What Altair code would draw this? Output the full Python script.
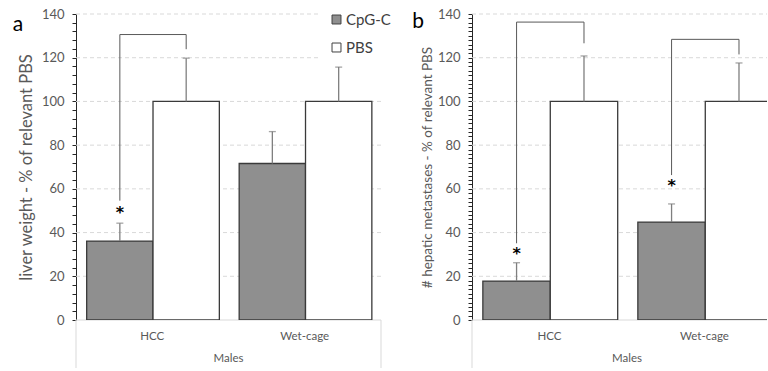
import altair as alt
import pandas as pd

# ---------------- data ----------------
categories = ["HCC", "Wet-cage"]
series = ["CpG-C", "PBS"]
group_label = "Males"

a_cpg = [36.1, 71.6]
a_cpg_err = [44.3, 86.2]
a_pbs = [100, 100]
a_pbs_err = [119.8, 115.7]
a_stars = [50.5, None]
a_brackets = [[0, 54.6, 130.6, 123.9]]  # category, left low, top, right low

b_cpg = [17.8, 44.8]
b_cpg_err = [26.2, 53.1]
b_pbs = [100, 100]
b_pbs_err = [120.8, 117.6]
b_stars = [31.6, 62.7]
b_brackets = [[0, 35.1, 136.3, 126.6], [1, 66.3, 128.4, 121.5]]

y_max = 140
major_ticks = list(range(0, 141, 20))

# ---------------- style ----------------
FONT = "Lato"
GAP = 0.07
BW = 0.435
H = 306
GRAY_TXT = "#595959"
AXIS_C = "#262626"
FRAME_C = "#d9d9d9"


def panel(cpg, cpg_err, pbs, pbs_err, stars, brackets, ytitle, title_size,
          minor, letter, width, unit, legend, title_x, letter_x, letter_y, anchor):
    xmax = width / unit
    n = len(categories)
    rows = []
    for i, c in enumerate(categories):
        for j, (s, v, e) in enumerate(zip(series, [cpg[i], pbs[i]], [cpg_err[i], pbs_err[i]])):
            x0 = i + GAP + j * BW
            rows.append(dict(cat=c, series=s, value=v, base=0, err=e, x0=x0, x1=x0 + BW, xc=x0 + BW / 2))
    df = pd.DataFrame(rows)

    yaxis = alt.Axis(
        values=list(range(0, y_max + 1, minor)),
        labelExpr="datum.value % 20 == 0 ? datum.label : ''",
        labelOverlap=False, grid=False,
        tickSize=4, tickColor=AXIS_C, domainColor=AXIS_C,
        labelColor=GRAY_TXT, labelFontSize=13, labelPadding=8, labelFont=FONT,
        title=ytitle, titleFont=FONT, titleFontSize=title_size, titleColor=GRAY_TXT,
        titleFontWeight="normal", titleAngle=270, titleX=title_x, titleY=H / 2,
        titleBaseline="alphabetic", titleAlign="center")

    xs = alt.Scale(domain=[0, xmax], nice=False, zero=False)
    ys = alt.Scale(domain=[0, y_max], nice=False)
    X = lambda f: alt.X(f, type="quantitative", scale=xs, axis=None)
    Y = lambda f: alt.Y(f, type="quantitative", scale=ys, axis=yaxis)

    grid_df = pd.DataFrame({"y": [t for t in major_ticks if t > 0], "gx0": 0.0, "gx1": xmax})
    grid = alt.Chart(grid_df).mark_rule(color=FRAME_C, strokeDash=[4, 3], strokeWidth=1).encode(
        x=X("gx0"), x2="gx1", y=Y("y"))

    base_df = pd.DataFrame({"y": [0], "gx0": [0.0], "gx1": [xmax]})
    baseline = alt.Chart(base_df).mark_rule(color=FRAME_C, strokeWidth=1).encode(
        x=X("gx0"), x2="gx1", y=Y("y"))

    fr_df = pd.DataFrame({"fx": [b for b in [0, n] if b <= xmax]})
    frames = alt.Chart(fr_df).mark_rule(color=FRAME_C, strokeWidth=1).encode(
        x=X("fx"), y=alt.value(H), y2=alt.value(H + 48))

    bars = alt.Chart(df).mark_bar(stroke="#3a3a3a", strokeWidth=1.3, clip=True).encode(
        x=X("x0"), x2="x1",
        y=Y("value"), y2="base",
        color=alt.Color("series:N", scale=alt.Scale(domain=series, range=["#8f8f8f", "#ffffff"]),
                        legend=legend),
    )

    errs = alt.Chart(df).mark_rule(color="#7f7f7f", strokeWidth=1.3).encode(
        x=X("xc"), y=Y("value"), y2="err")
    caps = alt.Chart(df).mark_tick(orient="horizontal", size=7, thickness=1.3, color="#7f7f7f").encode(
        x=X("xc"), y=Y("err"))

    seg = []
    for ci, lo_l, top, lo_r in brackets:
        xl = ci + GAP + BW / 2
        xr = ci + GAP + 1.5 * BW
        seg += [dict(x=xl, x2=xl, y=lo_l, y2=top),
                dict(x=xl, x2=xr, y=top, y2=top),
                dict(x=xr, x2=xr, y=top, y2=lo_r)]
    brk = alt.Chart(pd.DataFrame(seg)).mark_rule(color="#595959", strokeWidth=1).encode(
        x=X("x"), x2="x2", y=Y("y"), y2="y2")

    st_df = pd.DataFrame([dict(x=i + GAP + BW / 2, y=s) for i, s in enumerate(stars) if s is not None])
    star = alt.Chart(st_df).mark_text(text="*", fontSize=16, fontWeight="bold", color="#000000",
                                      baseline="middle", dy=3, font="DejaVu Sans").encode(
        x=X("x"), y=Y("y"))

    cat_df = pd.DataFrame({"cat": categories, "cx": [i + 0.5 for i in range(n)]})
    cat_txt = alt.Chart(cat_df).mark_text(fontSize=11.5, color=GRAY_TXT, font=FONT, baseline="middle").encode(
        x=X("cx"), y=alt.value(H + 17), text="cat:N")
    grp_df = pd.DataFrame({"g": [group_label], "gx": [n / 2]})
    grp_txt = alt.Chart(grp_df).mark_text(fontSize=11.5, color=GRAY_TXT, font=FONT, baseline="middle").encode(
        x=X("gx"), y=alt.value(H + 39), text="g:N")

    let_df = pd.DataFrame({"t": [letter]})
    let_txt = alt.Chart(let_df).mark_text(fontSize=21, color="#000000", font=FONT, baseline="middle").encode(
        x=alt.value(letter_x), y=alt.value(letter_y), text="t:N")

    layers = [grid, baseline, frames, bars, errs, caps, brk, star, cat_txt, grp_txt, let_txt]
    if anchor:
        anc = alt.Chart(pd.DataFrame({"a": [0]})).mark_rule(opacity=0, strokeWidth=1).encode(
            x=alt.value(-76), x2=alt.value(-70), y=alt.value(-14), y2=alt.value(-14))
        layers.append(anc)
    return alt.layer(*layers).properties(width=width, height=H)


legend_a = alt.Legend(orient="none", legendX=243, legendY=-12, title=None, symbolType="square",
                      symbolSize=80, symbolStrokeColor="#404040", symbolStrokeWidth=1,
                      labelFontSize=15, labelColor="#404040", labelFont=FONT, rowPadding=12,
                      fillColor="white", padding=10, labelOffset=2)

pa = panel(a_cpg, a_cpg_err, a_pbs, a_pbs_err, a_stars, a_brackets,
           "liver weight - % of relevant PBS", 16.5, 4, "a", 305, 152.5, legend_a,
           -45, -58, 11, True)
pb = panel(b_cpg, b_cpg_err, b_pbs, b_pbs_err, b_stars, b_brackets,
           "# hepatic metastases - % of relevant PBS", 13.5, 2, "b", 295, 155, None,
           -41, -54, 8, False)

chart = alt.hconcat(pa, pb, spacing=91, bounds="flush").resolve_legend(color="independent").properties(
    padding={"left": 0, "top": 0, "right": 0, "bottom": 0}
).configure(font=FONT).configure_view(stroke=None)

chart.save("out.html", embed_options={"renderer": "svg", "actions": False})
